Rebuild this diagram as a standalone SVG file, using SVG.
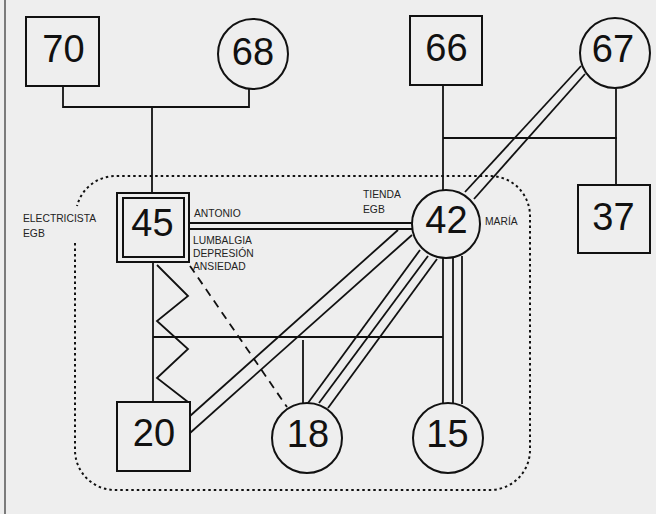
<svg xmlns="http://www.w3.org/2000/svg" width="656" height="514" viewBox="0 0 656 514">
<style>
.n{fill:none;stroke:#111;stroke-width:2}
.c{fill:none;stroke:#111;stroke-width:1.8}
.num{font-family:"Liberation Sans",Arial,sans-serif;font-size:38px;fill:#111;text-anchor:middle}
.lbl{font-family:"Liberation Sans",Arial,sans-serif;font-size:10.3px;fill:#222}
.dot{fill:none;stroke:#111;stroke-width:2;stroke-dasharray:2.5 3}
.dash{fill:none;stroke:#111;stroke-width:1.8;stroke-dasharray:8 6}
</style>
<rect x="0" y="0" width="656" height="514" fill="#eeeeee"/>
<line x1="5" y1="0" x2="5" y2="514" stroke="#555" stroke-width="1.5"/>
<g id="household">
<path class="dot" d="M75,243 V450 A40,40 0 0 0 115,490 H490 A40,40 0 0 0 530,450 V216 A40,40 0 0 0 490,176 H115 A40,40 0 0 0 77,206"/>
</g>
<g id="connectors">
<polyline class="c" points="63,86 63,107 249,107 249,89"/>
<line class="c" x1="152" y1="107" x2="152" y2="193"/>
<line class="c" x1="443" y1="85" x2="443" y2="190"/>
<line class="c" x1="443" y1="138" x2="617" y2="138"/>
<line class="c" x1="616" y1="88" x2="616" y2="185"/>
<line class="c" x1="153" y1="262" x2="153" y2="402"/>
<line class="c" x1="153" y1="337" x2="443" y2="337"/>
<line class="c" x1="303" y1="340" x2="303" y2="403"/>
<line class="c" x1="443" y1="258" x2="443" y2="403"/>
<line class="c" x1="453" y1="258" x2="453" y2="403"/>
<line class="c" x1="462" y1="256" x2="462" y2="404"/>
<line class="c" x1="189" y1="223" x2="412" y2="223"/>
<line class="c" x1="189" y1="229" x2="412" y2="229"/>
<polyline class="c" points="157,265 188,296 157,321 188,349 157,378 188,402"/>
<line class="dash" x1="190" y1="266" x2="287" y2="407"/>
<line class="c" x1="190" y1="416" x2="398" y2="230"/>
<line class="c" x1="190" y1="433" x2="412" y2="235"/>
<line class="c" x1="420" y1="250" x2="308" y2="403"/>
<line class="c" x1="428" y1="256" x2="319" y2="403"/>
<line class="c" x1="437" y1="259" x2="328" y2="408"/>
<line class="c" x1="465" y1="192" x2="581" y2="66"/>
<line class="c" x1="474" y1="199" x2="585" y2="74"/>
</g>
<g id="n70"><rect class="n" x="26" y="17" width="73" height="69" fill="#eeeeee"/><text class="num" x="63.5" y="62">70</text></g>
<g id="n68"><circle class="n" cx="253" cy="54" r="35" fill="#eeeeee"/><text class="num" x="253" y="65">68</text></g>
<g id="n66"><rect class="n" x="410" y="16" width="72" height="69" fill="#eeeeee"/><text class="num" x="446.5" y="61">66</text></g>
<g id="n67"><circle class="n" cx="615" cy="53" r="35" fill="#eeeeee"/><text class="num" x="613" y="62">67</text></g>
<g id="n37"><rect class="n" x="578" y="185" width="72" height="68" fill="#eeeeee"/><text class="num" x="613.5" y="230">37</text></g>
<g id="n42"><circle class="n" cx="446" cy="224" r="34" fill="#eeeeee"/><text class="num" x="446.5" y="233">42</text></g>
<g id="n45"><rect class="n" x="117" y="193" width="72" height="69" fill="#eeeeee"/><rect class="n" x="123" y="198" width="61" height="59"/><text class="num" x="152.5" y="236">45</text></g>
<g id="n20"><rect class="n" x="117" y="402" width="73" height="69" fill="#eeeeee"/><text class="num" x="154" y="446">20</text></g>
<g id="n18"><circle class="n" cx="307" cy="438" r="35" fill="#eeeeee"/><text class="num" x="308" y="447">18</text></g>
<g id="n15"><circle class="n" cx="448" cy="438" r="35" fill="#eeeeee"/><text class="num" x="447.5" y="447">15</text></g>
<g id="labels">
<text class="lbl" x="23" y="222">ELECTRICISTA</text>
<text class="lbl" x="23" y="237">EGB</text>
<text class="lbl" x="194" y="217">ANTONIO</text>
<text class="lbl" x="193" y="244">LUMBALGIA</text>
<text class="lbl" x="193" y="257">DEPRESIÓN</text>
<text class="lbl" x="193" y="270">ANSIEDAD</text>
<text class="lbl" x="363" y="198">TIENDA</text>
<text class="lbl" x="363" y="213">EGB</text>
<text class="lbl" x="485" y="225">MARÍA</text>
</g>
</svg>
